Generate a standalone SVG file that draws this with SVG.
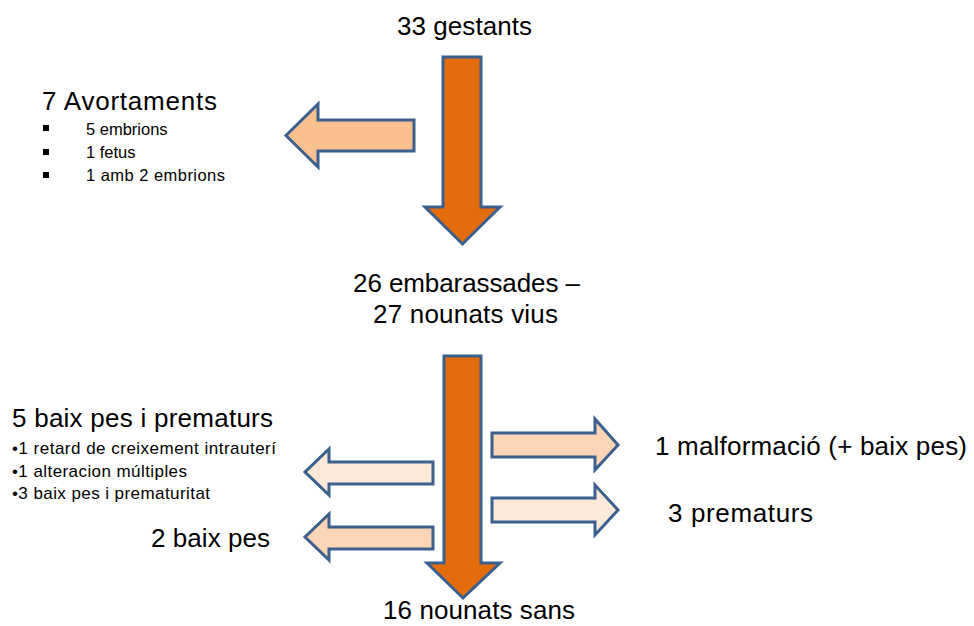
<svg xmlns="http://www.w3.org/2000/svg" width="974" height="626" viewBox="0 0 974 626">
<style>
text{font-family:"Liberation Sans",Arial,sans-serif;fill:#000}
.big{font-size:26px}
.sm{font-size:16.5px}
.sub{font-size:17px}
.arr{stroke:#3B5F8E;stroke-width:3;stroke-linejoin:miter}
.main{fill:#E46C0A}
.a1{fill:#FAC090}
.a2{fill:#FBD5B5}
.a3{fill:#FDE9D9}
</style>
<rect width="974" height="626" fill="#fff"/>
<g id="connectors">
<path class="arr main" d="M443,57 H481 V207 H500 L462.5,244 L425,207 H443 Z"/>
<path class="arr a1" d="M414,120 V151 H318 V167 L286,135.5 L318,104 V120 Z"/>
<path class="arr main" d="M444,356 H481 V563 H500 L463,598 L427,563 H444 Z"/>
<path class="arr a2" d="M492,433 H595 V419 L618,445 L595,470 V457 H492 Z"/>
<path class="arr a3" d="M492,498 H595 V485 L618,510 L595,535 V522 H492 Z"/>
<path class="arr a3" d="M433,462 V484 H329 V495 L305,472 L329,449 V462 Z"/>
<path class="arr a2" d="M433,527 V549 H329 V560 L305,537 L329,514 V527 Z"/>
</g>
<g id="n-gestants"><text class="big" x="397" y="35" textLength="135">33 gestants</text></g>
<g id="n-avortaments">
<text class="big" x="42" y="110" textLength="175">7 Avortaments</text>
<rect x="43" y="125" width="6" height="6"/>
<rect x="43" y="149" width="6" height="6"/>
<rect x="43" y="172" width="6" height="6"/>
<text class="sm" x="86" y="135">5 embrions</text>
<text class="sm" x="86" y="158">1 fetus</text>
<text class="sm" x="86" y="181" textLength="139">1 amb 2 embrions</text>
</g>
<g id="n-embarassades">
<text class="big" x="353" y="292" textLength="227">26 embarassades –</text>
<text class="big" x="373" y="323" textLength="185">27 nounats vius</text>
</g>
<g id="n-baixpes-prematurs">
<text class="big" x="12" y="427" textLength="261">5 baix pes i prematurs</text>
<text class="sub" x="12" y="454" textLength="264">•1 retard de creixement intrauterí</text>
<text class="sub" x="12" y="477" textLength="175">•1 alteracion múltiples</text>
<text class="sub" x="12" y="499" textLength="198">•3 baix pes i prematuritat</text>
</g>
<g id="n-baixpes"><text class="big" x="151" y="547" textLength="119">2 baix pes</text></g>
<g id="n-malformacio"><text class="big" x="655" y="455" textLength="312">1 malformació (+ baix pes)</text></g>
<g id="n-prematurs"><text class="big" x="668" y="522" textLength="145">3 prematurs</text></g>
<g id="n-sans"><text class="big" x="383" y="619" textLength="192">16 nounats sans</text></g>
</svg>
